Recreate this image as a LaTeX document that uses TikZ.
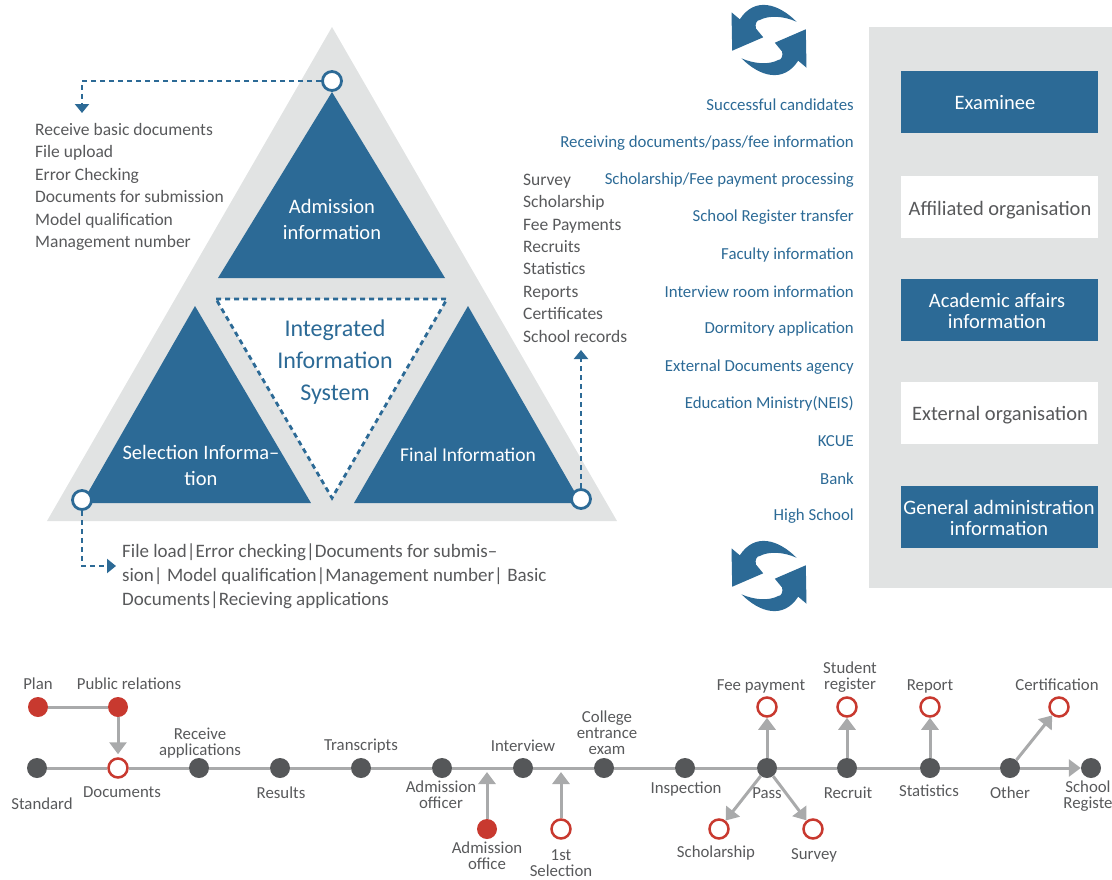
\documentclass[tikz,border=0pt]{standalone}
\usepackage{fontspec}
\setmainfont{Carlito}
\usetikzlibrary{arrows.meta}
\definecolor{bluefill}{HTML}{2C6A96}
\definecolor{panelgray}{HTML}{E1E3E3}
\definecolor{dotgray}{HTML}{555759}
\definecolor{linegray}{HTML}{A9AAAB}
\definecolor{dotred}{HTML}{C8392F}
\definecolor{textgray}{HTML}{58595B}
\tikzset{
  lbl/.style={text=textgray,align=center,inner sep=0pt,font=\fontsize{16.8}{16}\selectfont},
  listtext/.style={text=textgray,align=left,inner sep=0pt,anchor=west},
  flowtext/.style={text=bluefill,anchor=east,inner sep=0pt,font=\fontsize{16.8}{18}\selectfont},
  dot/.style={circle,fill=dotgray,minimum size=20pt,inner sep=0pt},
  reddot/.style={circle,fill=dotred,minimum size=20pt,inner sep=0pt},
  opendot/.style={circle,draw=dotred,line width=2.5pt,fill=white,minimum size=19pt,inner sep=0pt},
  corner/.style={circle,draw=bluefill,line width=2.8pt,fill=white,minimum size=19pt,inner sep=0pt},
  link/.style={draw=linegray,line width=3pt},
  linkarrow/.style={link,-{Triangle[length=12pt,width=17pt]}},
  dashline/.style={draw=bluefill,line width=2.8pt,dash pattern=on 5pt off 4pt,-{Triangle[length=9pt,width=14pt]}},
  bluebox/.style={fill=bluefill,minimum width=197pt,minimum height=62pt,inner sep=0pt},
  whitebox/.style={fill=white,minimum width=197pt,minimum height=62pt,inner sep=0pt},
  boxtext/.style={align=center,inner sep=0pt,font=\fontsize{20.5}{21}\selectfont},
  tritext/.style={white,align=center,inner sep=0pt,font=\fontsize{20.5}{26}\selectfont},
  pics/cycle/.style={code={
    \foreach \turn in {0,180}
      \fill[bluefill,rotate=\turn] (27.5,-18.3) .. controls (10,-36) and (-14,-44) .. (-29.2,-20.7) -- (-37.5,-27.7) -- (-36.8,10.7) -- (-5.8,-2.7) -- (-13.2,-11.7) .. controls (-14,-17) and (-12,-20) .. (-9.2,-20) .. controls (0,-25) and (15,-24) .. cycle;
  }}
}
\begin{document}
\begin{tikzpicture}[x=1pt,y=-1pt]
  \useasboundingbox (0,0) rectangle (1112,879);
  % triangles
  \fill[panelgray] (332,27) -- (617,521) -- (47,521) -- cycle;
  \fill[bluefill] (332,92) -- (445,278) -- (218,278) -- cycle;
  \fill[bluefill] (195,306) -- (311,503) -- (82,503) -- cycle;
  \fill[bluefill] (468,306) -- (581,503) -- (354,503) -- cycle;
  \fill[white] (216,299) -- (447,299) -- (332,498) -- cycle;
  \draw[bluefill,line width=2.8pt,dash pattern=on 5pt off 4pt] (216,299) -- (447,299) -- (332,498) -- cycle;
  \node[tritext] (admission) at (332,219) {Admission\\information};
  \node[tritext] (selection) at (201,465) {Selection Informa--\\tion};
  \node[tritext,font=\fontsize{19.5}{26}\selectfont] (final) at (468,455) {Final Information};
  \node[bluefill,align=center,inner sep=0pt,font=\fontsize{24}{32}\selectfont] (integrated) at (335,362) {Integrated\\Information\\System};
  % corners and dashed arrows
  \node[corner] (topcorner) at (332,81) {};
  \node[corner] (leftcorner) at (82,500) {};
  \node[corner] (rightcorner) at (581,499) {};
  \coordinate (topend) at (82,113);
  \coordinate (leftend) at (116,566);
  \coordinate (rightend) at (581,350);
  \draw[dashline] (topcorner) -| (topend);
  \draw[dashline] (leftcorner) |- (leftend);
  \draw[dashline] (rightcorner) -- (rightend);
  % lists
  \node[listtext,font=\fontsize{17.5}{22.4}\selectfont] (admlist) at (35,187) {Receive basic documents\\File upload\\Error Checking\\Documents for submission\\Model qualification\\Management number};
  \node[listtext,font=\fontsize{17.5}{22.4}\selectfont] (finallist) at (523,258) {Survey\\Scholarship\\Fee Payments\\Recruits\\Statistics\\Reports\\Certificates\\School records};
  \node[listtext,font=\fontsize{19}{24}\selectfont] (sellist) at (122,576) {File load|Error checking|Documents for submis--\\sion| Model qualification|Management number| Basic\\Documents|Recieving applications};
  % right panel
  \fill[panelgray] (869,27) rectangle (1112,588);
  \node[bluebox] (examinee) at (999.5,102) {};
  \node[whitebox] (affiliated) at (999.5,207) {};
  \node[bluebox] (academic) at (999.5,310) {};
  \node[whitebox] (external) at (999.5,413) {};
  \node[bluebox] (general) at (999.5,517) {};
  \node[boxtext,white] (examineetext) at (995,103) {Examinee};
  \node[boxtext,textgray] (affiliatedtext) at (1000,210) {Affiliated organisation};
  \node[boxtext,white] (academictext) at (997,311) {Academic affairs\\information};
  \node[boxtext,textgray] (externaltext) at (1000,415) {External organisation};
  \node[boxtext,white] (generaltext) at (999,518) {General administration\\information};
  \pic at (769,40) {cycle};
  \pic at (769,576) {cycle};
  % exchanged items
  \foreach \name/\ypos/\txt in {f1/105/Successful candidates,f2/143/Receiving documents\slash pass\slash fee information,f3/180/Scholarship\slash Fee payment processing,f4/217/School Register transfer,f5/255/Faculty information,f6/292/Interview room information,f7/329/Dormitory application,f8/367/External Documents agency,f9/404/Education Ministry(NEIS),f10/441/KCUE,f11/479/Bank,f12/516/High School}
    \node[flowtext] (\name) at (854,\ypos) {\txt};
  % timeline
  \foreach \name/\xpos in {standard/37,receive/199,results/280,transcripts/361,officer/442,interview/523,college/604,inspection/685,pass/767,recruit/847,statistics/930,other/1010,school/1091}
    \node[dot] (\name) at (\xpos,768) {};
  \node[opendot] (documents) at (118,768) {};
  \node[reddot] (plan) at (38,707) {};
  \node[reddot] (public) at (118,707) {};
  \node[reddot] (office) at (487,829) {};
  \node[opendot] (first) at (561,829) {};
  \node[opendot] (fee) at (767,707) {};
  \node[opendot] (student) at (847,707) {};
  \node[opendot] (report) at (930,707) {};
  \node[opendot] (certification) at (1059,707) {};
  \node[opendot] (scholarship) at (719,829) {};
  \node[opendot] (survey) at (813,829) {};
  \coordinate (officeend) at (487,772);
  \coordinate (firstend) at (561,772);
  \draw[link] (plan) -- (public);
  \draw[link] (standard) -- (documents) -- (receive) -- (results) -- (transcripts) -- (officer) -- (interview) -- (college) -- (inspection) -- (pass) -- (recruit) -- (statistics) -- (other);
  \draw[linkarrow] (other) -- (school);
  \draw[linkarrow,shorten >=3pt] (public) -- (documents);
  \draw[linkarrow] (office) -- (officeend);
  \draw[linkarrow] (first) -- (firstend);
  \draw[linkarrow] (pass) -- (fee);
  \draw[linkarrow] (recruit) -- (student);
  \draw[linkarrow] (statistics) -- (report);
  \draw[linkarrow] (other) -- (certification);
  \draw[linkarrow] (pass) -- (scholarship);
  \draw[linkarrow] (pass) -- (survey);
  % labels
  \foreach \name/\xpos/\ypos/\txt in {lplan/38/684/Plan,lpublic/129/684/Public relations,lstandard/42/804/Standard,ldocuments/122/792/Documents,lreceive/200/743/Receive\\applications,lresults/281/793/Results,ltranscripts/361/746/Transcripts,lofficer/441/795/Admission\\officer,linterview/523/746/Interview,loffice/487/856/Admission\\office,lfirst/561/863/1st\\Selection,lcollege/607/733/College\\entrance\\exam,linspection/686/789/Inspection,lpass/767/793/Pass,lfee/761/686/Fee payment,lstudent/850/677/Student\\register,lreport/930/686/Report,lcertification/1057/685/Certification,lrecruit/848/793/Recruit,lstatistics/929/791/Statistics,lother/1010/793/Other,lschool/1088/796/School\\Registe,lscholarship/716/853/Scholarship,lsurvey/814/855/Survey}
    \node[lbl] (\name) at (\xpos,\ypos) {\txt};
\end{tikzpicture}
\end{document}
